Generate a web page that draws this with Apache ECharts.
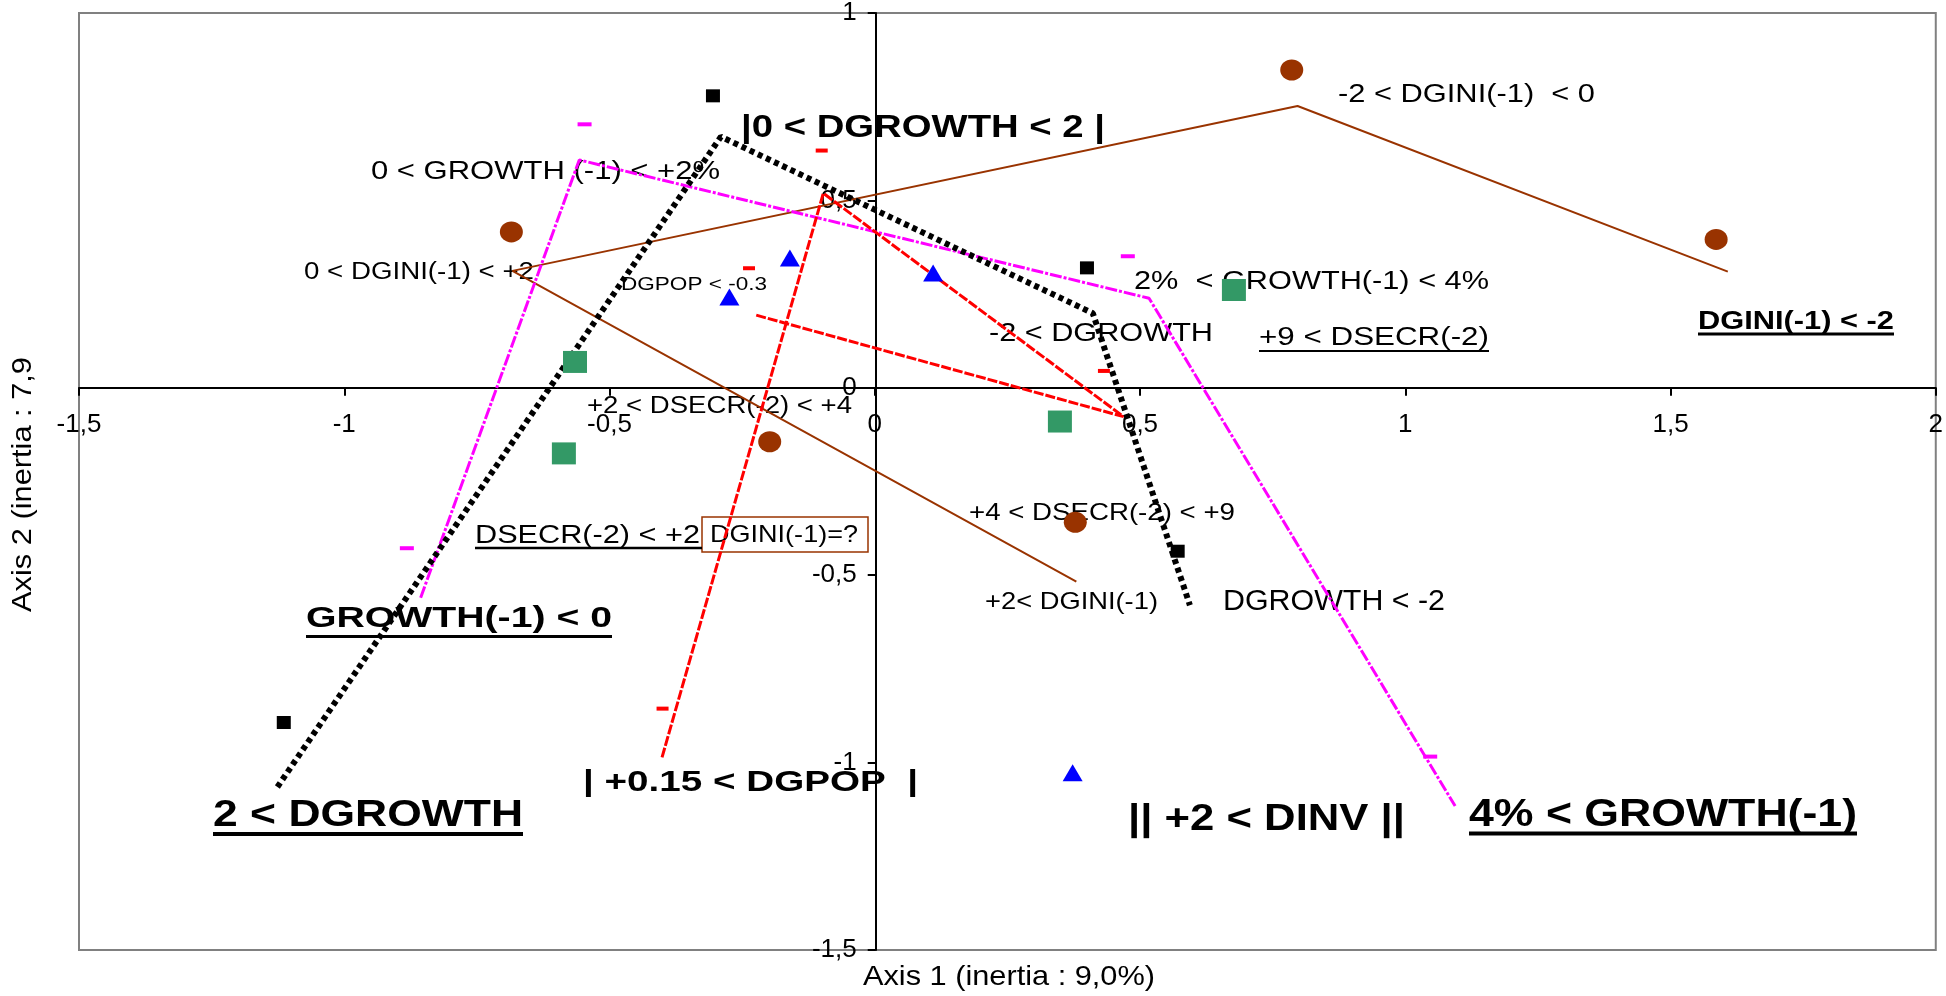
<!DOCTYPE html>
<html>
<head>
<meta charset="utf-8">
<script src="https://cdn.jsdelivr.net/npm/echarts@6/dist/echarts.min.js"></script>
<style>
html,body{margin:0;padding:0;background:#fff;}
#chart{width:1946px;height:996px;}
</style>
</head>
<body>
<div id="chart"></div>
<script>
// ---------------- data ----------------
const xRange = [-1.5, 2];
const yRange = [-1.5, 1];
const tickStep = 0.5;
const axisTitles = ['Axis 1 (inertia : 9,0%)', 'Axis 2 (inertia : 7,9'];

// DGROWTH (black squares + dotted path)
const dgrowthPoints = [[-1.114, -0.893], [-0.305, 0.779], [0.400, 0.320], [0.571, -0.436]];
const dgrowthPath   = [[-1.126, -1.065], [-0.290, 0.670], [0.411, 0.199], [0.594, -0.580]];
// GROWTH(-1) (magenta dashes + path)
const growthPoints = [[-0.547, 0.703], [-0.882, -0.428], [0.477, 0.351], [1.047, -0.984]];
const growthPath   = [[-0.856, -0.560], [-0.557, 0.608], [0.517, 0.239], [1.094, -1.116]];
// DGPOP (red dashes + path)
const dgpopPoints = [[-0.100, 0.633], [-0.237, 0.319], [-0.400, -0.856], [0.432, 0.045]];
const dgpopPath   = [[-0.401, -0.986], [-0.097, 0.519], [0.469, -0.077], [-0.224, 0.194]];
// DINV (blue triangles)
const dinvPoints = [[-0.274, 0.242], [-0.160, 0.346], [0.110, 0.306], [0.373, -1.027]];
// DGINI(-1) (brown circles + path)
const dginiPoints = [[-0.685, 0.416], [-0.198, -0.144], [0.786, 0.848], [1.586, 0.396], [0.378, -0.359]];
const dginiPath   = [[0.380, -0.517], [-0.683, 0.312], [0.797, 0.752], [1.608, 0.310]];
// DSECR(-2) (green squares)
const dsecrPoints = [[-0.565, 0.069], [-0.586, -0.175], [0.349, -0.090], [0.677, 0.261]];

// category label texts
const labelTexts = [
  '|0 < DGROWTH < 2 |',
  '0 < GROWTH (-1) < +2%',
  '0 < DGINI(-1) < +2',
  'DGPOP < -0.3',
  '2%  < GROWTH(-1) < 4%',
  '-2 < DGROWTH',
  '+9 < DSECR(-2)',
  '-2 < DGINI(-1)  < 0',
  'DGINI(-1) < -2',
  '+2 < DSECR(-2) < +4',
  'DSECR(-2) < +2',
  'DGINI(-1)=?',
  '+4 < DSECR(-2) < +9',
  '+2< DGINI(-1)',
  'DGROWTH < -2',
  'GROWTH(-1) < 0',
  '2 < DGROWTH',
  '| +0.15 < DGPOP  |',
  '|| +2 < DINV ||',
  '4% < GROWTH(-1)'
];

// ---------------- layout (pixel placement of annotations) ----------------
const GRID = {left: 79, right: 8, top: 13, bottom: 46};
const PLOT_W = 1946 - GRID.left - GRID.right;
const PLOT_H = 996 - GRID.top - GRID.bottom;
// [left, centerY, width, fontSize, bold, underlineY, underlineWidth, underlineEnd]
const labelLayout = [
  [741, 128, 364, 31, true],
  [371, 172, 349, 26, false],
  [304, 273, 230, 23, false],
  [621, 285, 146, 19, false],
  [1134, 282, 355, 26, false],
  [989, 334, 224, 26, false],
  [1259, 338, 230, 25, false, 351, 2],
  [1338, 95, 257, 26, false],
  [1698, 322, 196, 26.5, true, 334, 3],
  [587, 407, 265, 23.5, false],
  [475, 536, 225, 26, false, 548, 2.5, 702],
  [710, 535.5, 148, 24, false],
  [969, 513, 266, 24, false],
  [985, 602, 173, 24, false],
  [1223, 602, 222, 29, false],
  [306, 619, 306, 29, true, 636.5, 3],
  [213, 816, 310, 37, true, 834, 4],
  [583, 783, 335, 30, true],
  [1128, 820, 277, 37, true],
  [1469, 816, 388, 38, true, 833.5, 4]
];
const boxLayout = {x: 702, y: 517, width: 166, height: 35};

const FONT = '"Liberation Sans", Arial, Helvetica, sans-serif';
const cv = document.createElement('canvas').getContext('2d');
function measure(text, size, bold) {
  cv.font = (bold ? 'bold ' : '') + size + 'px ' + FONT;
  return cv.measureText(text).width;
}
function textEl(text, x, y, w, size, bold, extra) {
  const sx = w / measure(text, size, bold);
  return Object.assign({
    type: 'text', x: x, y: y, scaleX: sx, z: 1, silent: true,
    style: {text: text, fontSize: size, fontFamily: FONT, fontWeight: bold ? 'bold' : 'normal',
            fill: '#000', align: 'left', verticalAlign: 'middle'}
  }, extra || {});
}

const graphics = [];
graphics.push({type: 'rect', z: 1, silent: true, shape: boxLayout,
  style: {fill: '#fff', stroke: '#993300', lineWidth: 1.5}});
labelTexts.forEach((t, i) => {
  const L = labelLayout[i];
  graphics.push(textEl(t, L[0], L[1], L[2], L[3], L[4]));
  if (L[5] !== undefined) {
    graphics.push({type: 'line', z: 1, silent: true,
      shape: {x1: L[0], y1: L[5], x2: L[7] !== undefined ? L[7] : L[0] + L[2], y2: L[5]},
      style: {stroke: '#000', lineWidth: L[6]}});
  }
});
graphics.push(textEl(axisTitles[0], 863, 977, 292, 28, false));
graphics.push(textEl(axisTitles[1], 23, 612, 255, 28, false, {rotation: Math.PI / 2}));

// axes cross at (0,0): shift each axis from the grid edge to the zero line
const xZeroOffset = -PLOT_H * (0 - yRange[0]) / (yRange[1] - yRange[0]);
const yZeroOffset = -PLOT_W * (0 - xRange[0]) / (xRange[1] - xRange[0]);

const fmt = v => String(v).replace('.', ',');
function axis(range, position, offset, margin) {
  return {
    type: 'value', min: range[0], max: range[1], interval: tickStep,
    position: position, offset: offset,
    axisLine: {show: true, onZero: false, lineStyle: {color: '#000', width: 2}},
    axisTick: {show: true, inside: false, length: 8, lineStyle: {color: '#000', width: 2}},
    splitLine: {show: false},
    axisLabel: {color: '#000', fontSize: 26, fontFamily: FONT, formatter: fmt, margin: margin,
      showMinLabel: true, showMaxLabel: true, hideOverlap: false}
  };
}

function pathSeries(data, color, width, type, cap) {
  return {type: 'line', data: data, showSymbol: false, symbol: 'none', silent: true, z: 2,
    lineStyle: {color: color, width: width, type: type, cap: cap || 'butt'}};
}
function markSeries(data, symbol, size, color) {
  return {type: 'scatter', data: data, symbol: symbol, symbolSize: size, silent: true, z: 3,
    itemStyle: {color: color, opacity: 1}};
}

const chart = echarts.init(document.getElementById('chart'), null, {renderer: 'canvas'});
chart.setOption({
  animation: false,
  backgroundColor: '#fff',
  grid: Object.assign({show: true, borderColor: '#808080', borderWidth: 2, backgroundColor: '#fff'}, GRID),
  xAxis: axis(xRange, 'bottom', xZeroOffset, 24),
  yAxis: axis(yRange, 'left', yZeroOffset, 19),
  series: [
    pathSeries(dginiPath, '#993300', 2, 'solid'),
    pathSeries(growthPath, '#FF00FF', 3, [12, 2, 3, 2]),
    pathSeries(dgpopPath, '#FF0000', 3, [10, 2]),
    pathSeries(dgrowthPath, '#000000', 6, [5, 4]),
    markSeries(dsecrPoints, 'rect', [24, 22], '#339966'),
    markSeries(dginiPoints, 'circle', [23, 21], '#993300'),
    markSeries(dinvPoints, 'triangle', [20, 17], '#0000FF'),
    markSeries(dgrowthPoints, 'rect', [14, 13], '#000000'),
    markSeries(growthPoints, 'rect', [14, 4], '#FF00FF'),
    markSeries(dgpopPoints, 'rect', [12, 4], '#FF0000')
  ],
  graphic: graphics
});
</script>
</body>
</html>
